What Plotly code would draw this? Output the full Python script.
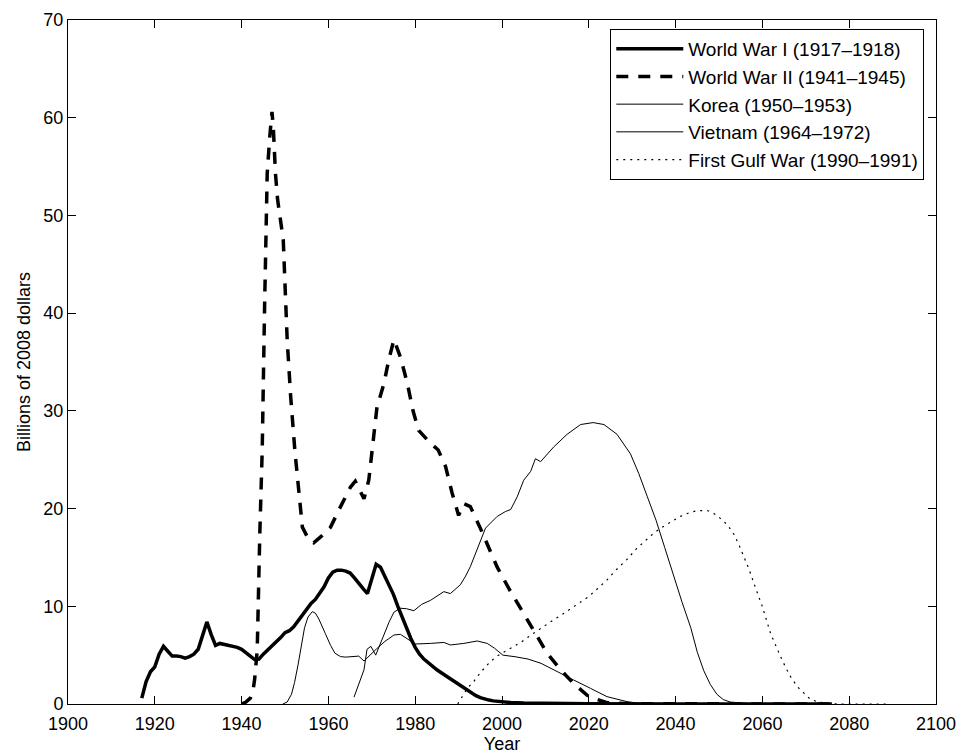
import plotly.graph_objects as go

# ---------------- data ----------------
ww1_years = [1917, 1918, 1919, 1920, 1921, 1922, 1923, 1924, 1925, 1926, 1927, 1928, 1929,
             1930, 1931, 1932, 1933, 1934, 1935, 1936, 1937, 1938, 1939, 1940, 1941, 1942,
             1943, 1944, 1945, 1946, 1947, 1948, 1949, 1950, 1951, 1952, 1953, 1954, 1955,
             1956, 1957, 1958, 1959, 1960, 1961, 1962, 1963, 1964, 1965, 1966, 1967, 1968,
             1969, 1970, 1971, 1972, 1973, 1974, 1975, 1976, 1977, 1978, 1979, 1980, 1981,
             1982, 1983, 1984, 1985, 1986, 1987, 1988, 1989, 1990, 1991, 1992, 1993, 1994,
             1995, 1996, 1997, 1998, 1999, 2000, 2002, 2005, 2010, 2020, 2040, 2076]
ww1_vals = [0.6, 2.3, 3.3, 3.8, 5.1, 5.9, 5.4, 4.9, 4.9, 4.85, 4.7, 4.85, 5.1,
            5.6, 7.0, 8.4, 7.1, 6.0, 6.2, 6.1, 6.0, 5.9, 5.8, 5.6, 5.3, 4.9,
            4.55, 4.6, 5.1, 5.5, 5.9, 6.3, 6.8, 7.3, 7.5, 7.9, 8.5, 9.2, 9.8,
            10.3, 10.7, 11.3, 12.0, 12.9, 13.5, 13.7, 13.7, 13.6, 13.4, 12.9, 12.3, 11.8,
            11.3, 12.8, 14.3, 14.0, 13.1, 12.1, 11.2, 10.0, 8.9, 7.7, 6.7, 5.8, 5.1,
            4.6, 4.2, 3.8, 3.5, 3.2, 2.9, 2.6, 2.3, 2.0, 1.8, 1.45, 1.1, 0.85,
            0.65, 0.5, 0.4, 0.32, 0.26, 0.22, 0.15, 0.1, 0.06, 0.03, 0.01, 0.0]

ww2_years = [1940.0, 1941.0, 1942.0, 1942.6, 1943.0, 1943.6, 1944.2, 1944.75, 1945.3, 1945.9,
             1946.5, 1947.0, 1947.3, 1947.8, 1948.3, 1949.6, 1950.5, 1951.3, 1952.3, 1953.2,
             1954.0, 1955.5, 1956.6, 1958.2, 1960.5, 1962.8, 1965.1, 1966.2, 1968.2, 1969.3,
             1970.1, 1971.2, 1972.8, 1973.9, 1975.1, 1976.6, 1978.2, 1979.5, 1980.8, 1983.5,
             1985.3, 1987.0, 1988.5, 1990.0, 1991.2, 1992.7, 1995.0, 1996.6, 1998.9, 2001.6,
             2005.0, 2008.1, 2010.4, 2013.5, 2016.5, 2020.0, 2024.2, 2030.0, 2050.0, 2076.0]
ww2_vals = [0.0, 0.2, 0.6, 1.3, 2.5, 5.5, 17.5, 26.0, 40.7, 54.3,
            58.1, 60.6, 59.1, 54.3, 51.6, 47.5, 37.3, 31.5, 25.8, 21.2,
            18.1, 16.8, 16.5, 17.1, 18.1, 20.2, 22.2, 22.8, 21.0, 22.9,
            26.0, 30.4, 32.8, 35.2, 37.3, 35.5, 32.8, 30.0, 28.0, 26.7,
            26.0, 24.3, 21.6, 19.3, 20.5, 20.2, 18.0, 16.4, 14.0, 11.8,
            9.3, 6.9, 5.2, 3.5, 2.1, 0.75, 0.13, 0.03, 0.0, 0.0]

korea_years = [1949.5, 1950.5, 1951.5, 1952.2, 1953.0, 1953.8, 1954.5, 1955.3, 1956.3, 1957.0,
               1957.8, 1959.3, 1960.5, 1961.5, 1962.8, 1964.0, 1965.5, 1967.0, 1968.2, 1969.5,
               1971.0, 1973.0, 1975.1, 1976.6, 1978.2, 1980.0, 1983.5, 1986.6, 1988.1, 1991.2,
               1994.3, 1996.6, 1998.3, 2000.2, 2003.0, 2006.0, 2009.0, 2012.7, 2016.5, 2020.4,
               2024.2, 2028.8, 2032.0, 2036.0]
korea_vals = [0.0, 0.2, 1.0, 2.2, 4.0, 6.0, 7.8, 8.9, 9.45, 9.3,
              8.7, 7.2, 6.0, 5.2, 4.85, 4.8, 4.85, 4.9, 4.4, 5.0,
              5.6, 6.4, 7.06, 7.13, 6.7, 6.14, 6.2, 6.3, 6.04, 6.2,
              6.45, 6.2, 5.7, 5.0, 4.84, 4.6, 4.16, 3.3, 2.46, 1.6,
              0.75, 0.24, 0.05, 0.0]

vietnam_years = [1965.9, 1967.0, 1968.2, 1968.9, 1969.8, 1970.9, 1972.0, 1972.8, 1974.0, 1975.1,
                 1976.6, 1978.0, 1979.7, 1981.5, 1983.5, 1986.6, 1988.1, 1990.4, 1991.5, 1992.7,
                 1994.7, 1996.2, 1998.9, 2000.8, 2002.0, 2003.5, 2005.0, 2006.6, 2007.7, 2008.9,
                 2011.9, 2015.0, 2018.1, 2021.0, 2023.5, 2026.5, 2029.6, 2031.5, 2033.5, 2035.5,
                 2037.5, 2039.5, 2041.5, 2043.5, 2045.0, 2046.5, 2048.0, 2049.5, 2051.0, 2052.6,
                 2055.7, 2058.0]
vietnam_vals = [0.7, 2.0, 3.5, 5.6, 5.9, 5.0, 6.2, 7.2, 8.4, 9.4,
                9.8, 9.75, 9.55, 10.2, 10.6, 11.5, 11.3, 12.2, 13.0, 14.05,
                16.4, 18.0, 19.2, 19.7, 19.9, 21.2, 22.9, 23.8, 25.1, 24.8,
                26.3, 27.6, 28.6, 28.8, 28.6, 27.6, 25.6, 23.6, 21.2, 18.8,
                16.0, 13.1, 10.4, 7.8, 5.3, 3.4, 2.0, 1.0, 0.45, 0.2,
                0.05, 0.0]

gulf_years = [1989.8, 1990.8, 1992.0, 1993.5, 1995.0, 1996.6, 1998.5, 2000.4, 2002.5, 2004.3,
              2006.5, 2008.9, 2011.5, 2014.0, 2016.0, 2018.1, 2020.0, 2022.0, 2024.2, 2026.0,
              2028.8, 2031.0, 2033.5, 2035.0, 2037.3, 2039.6, 2041.1, 2043.0, 2045.0, 2047.3,
              2048.8, 2050.3, 2052.0, 2053.4, 2054.6, 2055.7, 2057.0, 2058.0, 2060.0, 2061.9,
              2063.0, 2064.2, 2065.4, 2066.5, 2068.0, 2069.5, 2071.0, 2072.6, 2075.0, 2078.0,
              2089.0]
gulf_vals = [0.0, 0.75, 1.6, 2.3, 3.2, 4.0, 4.8, 5.3, 5.8, 6.3,
             7.0, 7.75, 8.5, 9.2, 9.8, 10.4, 11.0, 11.8, 12.7, 13.6,
             14.8, 15.9, 16.9, 17.5, 18.2, 18.8, 19.2, 19.55, 19.8, 19.8,
             19.5, 19.0, 18.3, 17.4, 16.3, 15.1, 13.7, 12.4, 9.96, 7.2,
             6.0, 4.84, 3.7, 2.8, 1.8, 1.1, 0.5, 0.24, 0.05, 0.0,
             0.0]

series_names = ["World War I (1917\u20131918)", "World War II (1941\u20131945)",
                "Korea (1950\u20131953)", "Vietnam (1964\u20131972)",
                "First Gulf War (1990\u20131991)"]

x_ticks = list(range(1900, 2101, 20))
y_ticks = list(range(0, 71, 10))

# ---------------- figure ----------------
fig = go.Figure()
styles = [
    dict(color="black", width=3.5, dash="solid"),
    dict(color="black", width=3.5, dash="12px,10px"),
    dict(color="black", width=1, dash="solid"),
    dict(color="black", width=1, dash="solid"),
    dict(color="black", width=1.2, dash="2px,5px"),
]
data = [(ww1_years, ww1_vals), (ww2_years, ww2_vals), (korea_years, korea_vals),
        (vietnam_years, vietnam_vals), (gulf_years, gulf_vals)]
for (xs, ys), name, st in zip(data, series_names, styles):
    fig.add_trace(go.Scatter(x=xs, y=ys, mode="lines", name=name, line=st))

axis_common = dict(
    showline=True, linecolor="black", linewidth=1, mirror="ticks",
    ticks="inside", ticklen=8, tickwidth=1, tickcolor="black",
    showgrid=False, zeroline=False, automargin=False,
    tickfont=dict(size=18, color="black"),
)
fig.update_xaxes(range=[1900, 2100], tickvals=x_ticks, ticktext=[str(v) for v in x_ticks],
                 ticklabelstandoff=3,
                 title=dict(text="Year", standoff=4, font=dict(size=18)), **axis_common)
fig.update_yaxes(range=[0, 70], tickvals=y_ticks, ticktext=[str(v) for v in y_ticks],
                 title=dict(text="Billions of 2008 dollars", standoff=8, font=dict(size=18)),
                 **axis_common)

fig.update_layout(
    width=959, height=756,
    margin=dict(l=68, r=23, t=20, b=52, pad=0),
    paper_bgcolor="white", plot_bgcolor="white",
    font=dict(family="Liberation Sans, Arial, Helvetica, sans-serif", size=18, color="black"),
    showlegend=True,
    legend=dict(x=0.9865, y=0.987, xanchor="right", yanchor="top",
                bgcolor="white", bordercolor="black", borderwidth=1,
                font=dict(size=19), itemwidth=67, tracegroupgap=0),
)

fig.write_html("out.html")
